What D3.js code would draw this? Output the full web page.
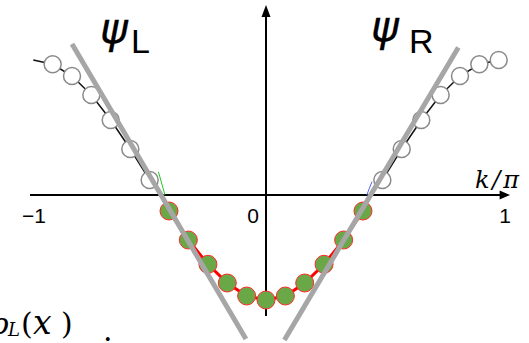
<!DOCTYPE html>
<html>
<head>
<meta charset="utf-8">
<script src="https://cdn.jsdelivr.net/npm/d3@7"></script>
<style>
  body { margin: 0; background: #fff; overflow: hidden; }
  svg { display: block; }
</style>
</head>
<body>
<div id="chart"></div>
<script>
/* DATA */
// occupied states (filled green)
const kFilled = [-0.411, -0.329, -0.246, -0.164, -0.082, 0, 0.082, 0.164, 0.246, 0.329, 0.411];
const eFilled = [-0.16, -0.45, -0.693, -0.88, -1.01, -1.05, -1.01, -0.88, -0.693, -0.45, -0.16];

// empty states (open circles)
const kEmptyL = [-0.904, -0.822, -0.740, -0.658, -0.575, -0.493];
const eEmptyL = [1.307, 1.19, 1.0, 0.75, 0.46, 0.15];
const kEmptyR = [0.493, 0.575, 0.658, 0.740, 0.822, 0.904, 0.986];
const eEmptyR = [0.15, 0.46, 0.75, 1.0, 1.19, 1.307, 1.35];

// thin dispersion line through the empty states
const kLineL = [-0.986, -0.904, -0.822, -0.740, -0.658, -0.575, -0.493];
const eLineL = [1.35, 1.307, 1.19, 1.0, 0.75, 0.46, 0.15];

// linearized branches (psi_L, psi_R)
const branchL = [[-0.822, 1.51], [-0.085, -1.44]];
const branchR = [[0.815, 1.475], [0.078, -1.45]];

// little tangents at the Fermi points
const tanL = [[-0.456, 0.233], [-0.428, 0]];
const tanR = [[0.449, 0.133], [0.427, 0]];

const tickVals = [-1, 0, 1];
const tickLabels = ["\u22121", "0", "1"];

/* SETUP */
const width = 529, height = 343;
const x = d3.scaleLinear().domain([-1, 1]).range([30, 502]);
const y = d3.scaleLinear().domain([-1.48, 1.95]).range([343, 0]);

const svg = d3.select("#chart").append("svg")
  .attr("width", width)
  .attr("height", height);

const line = d3.line().x(d => x(d[0])).y(d => y(d[1]));

// axes
svg.append("line")
  .attr("x1", x(-1)).attr("x2", x(1.0))
  .attr("y1", y(0)).attr("y2", y(0))
  .attr("stroke", "#000").attr("stroke-width", 2);
svg.append("path")
  .attr("d", `M${x(1.034)},${y(0)} L${x(0.99)},${y(0) - 4.5} L${x(0.99)},${y(0) + 4.5} Z`)
  .attr("fill", "#000");

svg.append("line")
  .attr("x1", x(0)).attr("x2", x(0))
  .attr("y1", y(-1.21)).attr("y2", y(1.78))
  .attr("stroke", "#000").attr("stroke-width", 2);
svg.append("path")
  .attr("d", `M${x(0)},${y(1.9)} L${x(0) - 4.5},${y(1.78)} L${x(0) + 4.5},${y(1.78)} Z`)
  .attr("fill", "#000");

// tick labels
const tickDx = [4, -13, 3];
svg.selectAll("text.tick")
  .data(tickVals)
  .join("text")
  .attr("class", "tick")
  .attr("x", (d, i) => x(d) + tickDx[i])
  .attr("y", y(0) + 28)
  .attr("text-anchor", "middle")
  .attr("font-family", "Liberation Sans, Arial, sans-serif")
  .attr("font-size", 21)
  .text((d, i) => tickLabels[i]);

svg.append("text")
  .attr("x", 475).attr("y", 188)
  .attr("font-family", "DejaVu Serif, serif")
  .attr("font-style", "italic")
  .attr("font-size", 24)
  .attr("textLength", 44)
  .text("k/\u03c0");

// thin black dispersion through empty states
svg.append("path")
  .datum(d3.zip(kLineL, eLineL))
  .attr("d", line)
  .attr("fill", "none").attr("stroke", "#111").attr("stroke-width", 1.5);
svg.append("path")
  .datum(d3.zip(kEmptyR, eEmptyR))
  .attr("d", line)
  .attr("fill", "none").attr("stroke", "#111").attr("stroke-width", 1.5);

// tangents
svg.append("path").datum(tanL).attr("d", line)
  .attr("fill", "none").attr("stroke", "#22cc22").attr("stroke-width", 1);
svg.append("path").datum(tanR).attr("d", line)
  .attr("fill", "none").attr("stroke", "#5566ee").attr("stroke-width", 1);

// open circles
svg.selectAll("circle.empty")
  .data(d3.zip(kEmptyL.concat(kEmptyR), eEmptyL.concat(eEmptyR)))
  .join("circle")
  .attr("class", "empty")
  .attr("cx", d => x(d[0]))
  .attr("cy", d => y(d[1]))
  .attr("r", 8.5)
  .attr("fill", "#fff")
  .attr("stroke", "#8a8a8a")
  .attr("stroke-width", 1.5);

// red line through filled states
svg.append("path")
  .datum(d3.zip(kFilled, eFilled))
  .attr("d", line)
  .attr("fill", "none").attr("stroke", "#ff0000").attr("stroke-width", 3);

svg.selectAll("circle.filled")
  .data(d3.zip(kFilled, eFilled))
  .join("circle")
  .attr("class", "filled")
  .attr("cx", d => x(d[0]))
  .attr("cy", d => y(d[1]))
  .attr("r", 9)
  .attr("fill", "#6aa746")
  .attr("stroke", "#ff2a2a")
  .attr("stroke-width", 1);

// gray linear branches
[branchL, branchR].forEach(b => {
  svg.append("path")
    .datum(b)
    .attr("d", line)
    .attr("fill", "none")
    .attr("stroke", "#a6a6a6")
    .attr("stroke-width", 5);
});

// psi labels
function psi(xp, yp, sub, subX, subY) {
  svg.append("text")
    .attr("x", xp).attr("y", yp)
    .attr("font-family", "DejaVu Sans, sans-serif")
    .attr("font-style", "italic")
    .attr("font-size", 42)
    .attr("stroke", "#000")
    .attr("stroke-width", 0.3)
    .text("\u03c8");
  svg.append("text")
    .attr("x", subX).attr("y", subY)
    .attr("font-family", "Liberation Sans, Arial, sans-serif")
    .attr("font-size", 34)
    .text(sub);
}
psi(100, 43, "L", 131, 53);
psi(371, 41, "R", 409, 53);

// clipped formula at bottom left
const f = svg.append("g")
  .attr("font-family", "DejaVu Serif, serif")
  .attr("font-size", 30);
f.append("text").attr("x", -9).attr("y", 334).attr("font-style", "italic").text("\u03c1");
f.append("text").attr("x", 8).attr("y", 336).attr("font-style", "italic").attr("font-size", 18).text("L");
f.append("text").attr("x", 21).attr("y", 334).text("(");
f.append("text").attr("x", 33).attr("y", 334).attr("font-style", "italic").attr("font-size", 33).text("x");
f.append("text").attr("x", 61).attr("y", 334).text(")");
f.append("text").attr("x", 103).attr("y", 341).text(".");
</script>
</body>
</html>
